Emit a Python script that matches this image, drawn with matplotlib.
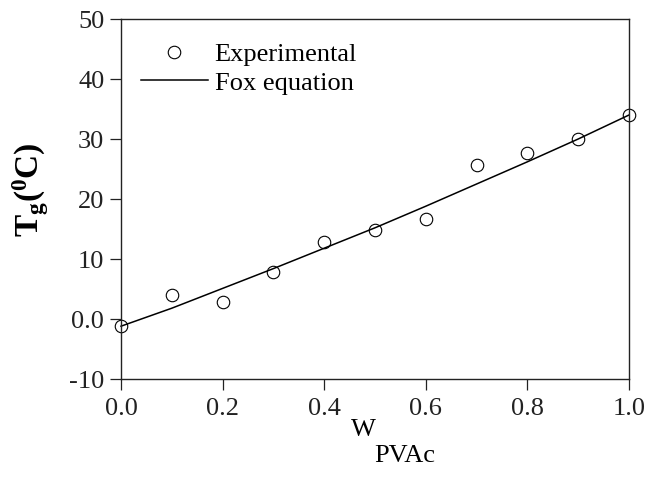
import matplotlib.pyplot as plt
from matplotlib.lines import Line2D

plt.rcParams['font.family'] = 'Liberation Serif'
plt.rcParams['mathtext.fontset'] = 'custom'
plt.rcParams['mathtext.rm'] = 'Liberation Serif'
plt.rcParams['mathtext.bf'] = 'Liberation Serif:bold'

# weight fraction of PVAc and measured Tg
w_pvac = [0.0, 0.1, 0.2, 0.3, 0.4, 0.5, 0.6, 0.7, 0.8, 0.9, 1.0]
tg_exp = [-1.2, 4.0, 2.9, 7.9, 12.9, 14.8, 16.6, 25.7, 27.6, 30.0, 34.0]
# Fox equation curve
tg_fox = [-1.2, 1.8, 5.1, 8.4, 11.8, 15.2, 18.8, 22.5, 26.2, 30.0, 34.0]

xticks = [0.0, 0.2, 0.4, 0.6, 0.8, 1.0]
yticks = [-10, 0, 10, 20, 30, 40, 50]
ytick_labels = ['-10', '0.0', '10', '20', '30', '40', '50']

fs = 19

fig = plt.figure(figsize=(6.49, 4.82), dpi=100)
ax = fig.add_axes([121 / 649, 1 - 379 / 482, (629 - 121) / 649, (379 - 19) / 482])

ax.plot(w_pvac, tg_fox, color='black', lw=1.1, clip_on=False)
ax.plot(w_pvac, tg_exp, 'o', mfc='none', mec='black', ms=9, mew=0.8,
        clip_on=False)

ax.set_xlim(0, 1)
ax.set_ylim(-10, 50)
ax.set_xticks(xticks)
ax.set_xticklabels(['%.1f' % v for v in xticks])
ax.set_yticks(yticks)
ax.set_yticklabels(ytick_labels)
ax.tick_params(direction='out', length=8, width=0.9, labelsize=fs,
               top=False, right=False, colors='#222222')
ax.tick_params(axis='x', pad=6)
ax.tick_params(axis='y', pad=4)
for s in ax.spines.values():
    s.set_linewidth(1.0)
    s.set_color('#222222')

ax.set_ylabel(r'$\mathbf{T_g(^0C)}$', fontsize=24)
ax.yaxis.set_label_coords(-0.138, 0.525)

# x label: W with a full-size lowered subscript
fig.text(363 / 649, 1 - 430 / 482, 'W', fontsize=fs, ha='center', va='center')
fig.text(405 / 649, 1 - 456 / 482, 'PVAc', fontsize=fs, ha='center',
         va='center')

handles = [Line2D([], [], ls='none', marker='o', mfc='none', mec='black',
                  ms=9, mew=0.8),
           Line2D([], [], color='black', lw=1.1)]
ax.legend(handles, ['Experimental', 'Fox equation'], loc='upper left',
          bbox_to_anchor=(0.039, 0.935), frameon=False, fontsize=fs,
          handlelength=2.55, handletextpad=0.25, labelspacing=0.2,
          borderaxespad=0, borderpad=0)

fig.savefig('out.png', dpi=100)
